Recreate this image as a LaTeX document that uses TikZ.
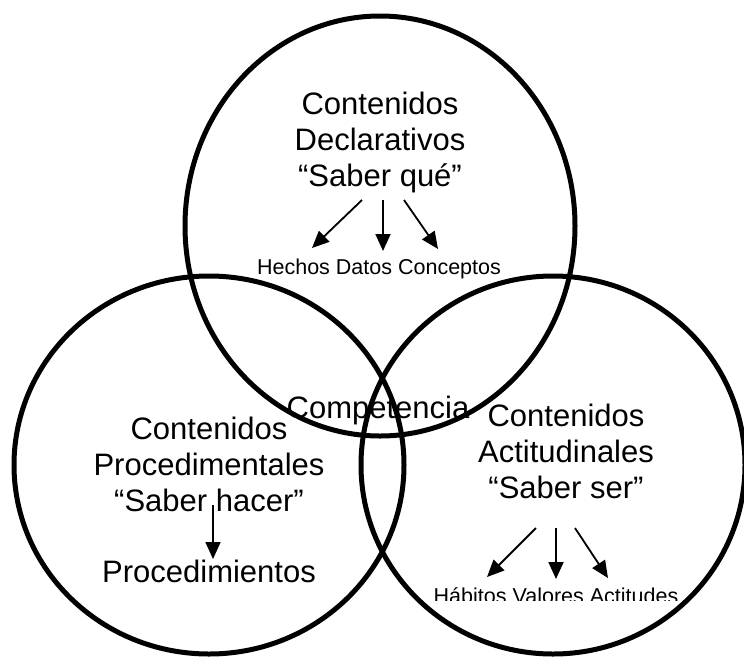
\documentclass[tikz,border=0pt]{standalone}
\usepackage{fontspec}
\setmainfont{Liberation Sans}
\usetikzlibrary{arrows.meta}

\begin{document}
\begin{tikzpicture}[x=1pt, y=-1pt]
\tikzstyle{every node}=[inner sep=0pt]
\tikzstyle{ring}=[line width=5pt]
\tikzstyle{heading}=[align=center, anchor=base, font=\fontsize{31}{35.6}\selectfont]
\tikzstyle{items}=[anchor=base, font=\fontsize{21.5}{24}\selectfont]
\tikzstyle{pointer}=[-{Triangle[length=17pt, width=15pt]}, line width=1.8pt]
\useasboundingbox (0,0) rectangle (744,657);
\begin{scope}
\clip (0,0) rectangle (744,657);
\draw[ring] (380,226) ellipse [x radius=195, y radius=210];
\draw[ring] (209,465) ellipse [x radius=195, y radius=189];
\draw[ring] (553,465) ellipse [x radius=192, y radius=189];
\end{scope}

% declarativos
\node[heading] (decl) at (380,186) {Contenidos\\Declarativos\\“Saber qué”};
\node[items] (hdc) at (379,274) {Hechos Datos Conceptos};
\coordinate (d-a) at (362,200); \coordinate (d-a') at (312,248);
\coordinate (d-b) at (383,200); \coordinate (d-b') at (383,251);
\coordinate (d-c) at (404,200); \coordinate (d-c') at (438,249);

% procedimentales
\node[heading] (proc) at (209,511) {Contenidos\\Procedimentales\\“Saber hacer”};
\node[heading] (pr) at (209,582) {Procedimientos};
\coordinate (p-a) at (213,505); \coordinate (p-a') at (213,559);

% actitudinales
\node[heading] (act) at (566,498) {Contenidos\\Actitudinales\\“Saber ser”};
\coordinate (a-a) at (536,528); \coordinate (a-a') at (487,577);
\coordinate (a-b) at (556,528); \coordinate (a-b') at (556,579);
\coordinate (a-c) at (575,528); \coordinate (a-c') at (608,578);
\begin{scope}
\clip (0,0) rectangle (744,600);
\node[items] (hva) at (556,603) {Hábitos Valores Actitudes};
\end{scope}

\node[heading] (comp) at (378,418) {Competencia};

\path[pointer]
(d-a) edge (d-a')
(d-b) edge (d-b')
(d-c) edge (d-c')
(p-a) edge (p-a')
(a-a) edge (a-a')
(a-b) edge (a-b')
(a-c) edge (a-c');
\end{tikzpicture}
\end{document}
